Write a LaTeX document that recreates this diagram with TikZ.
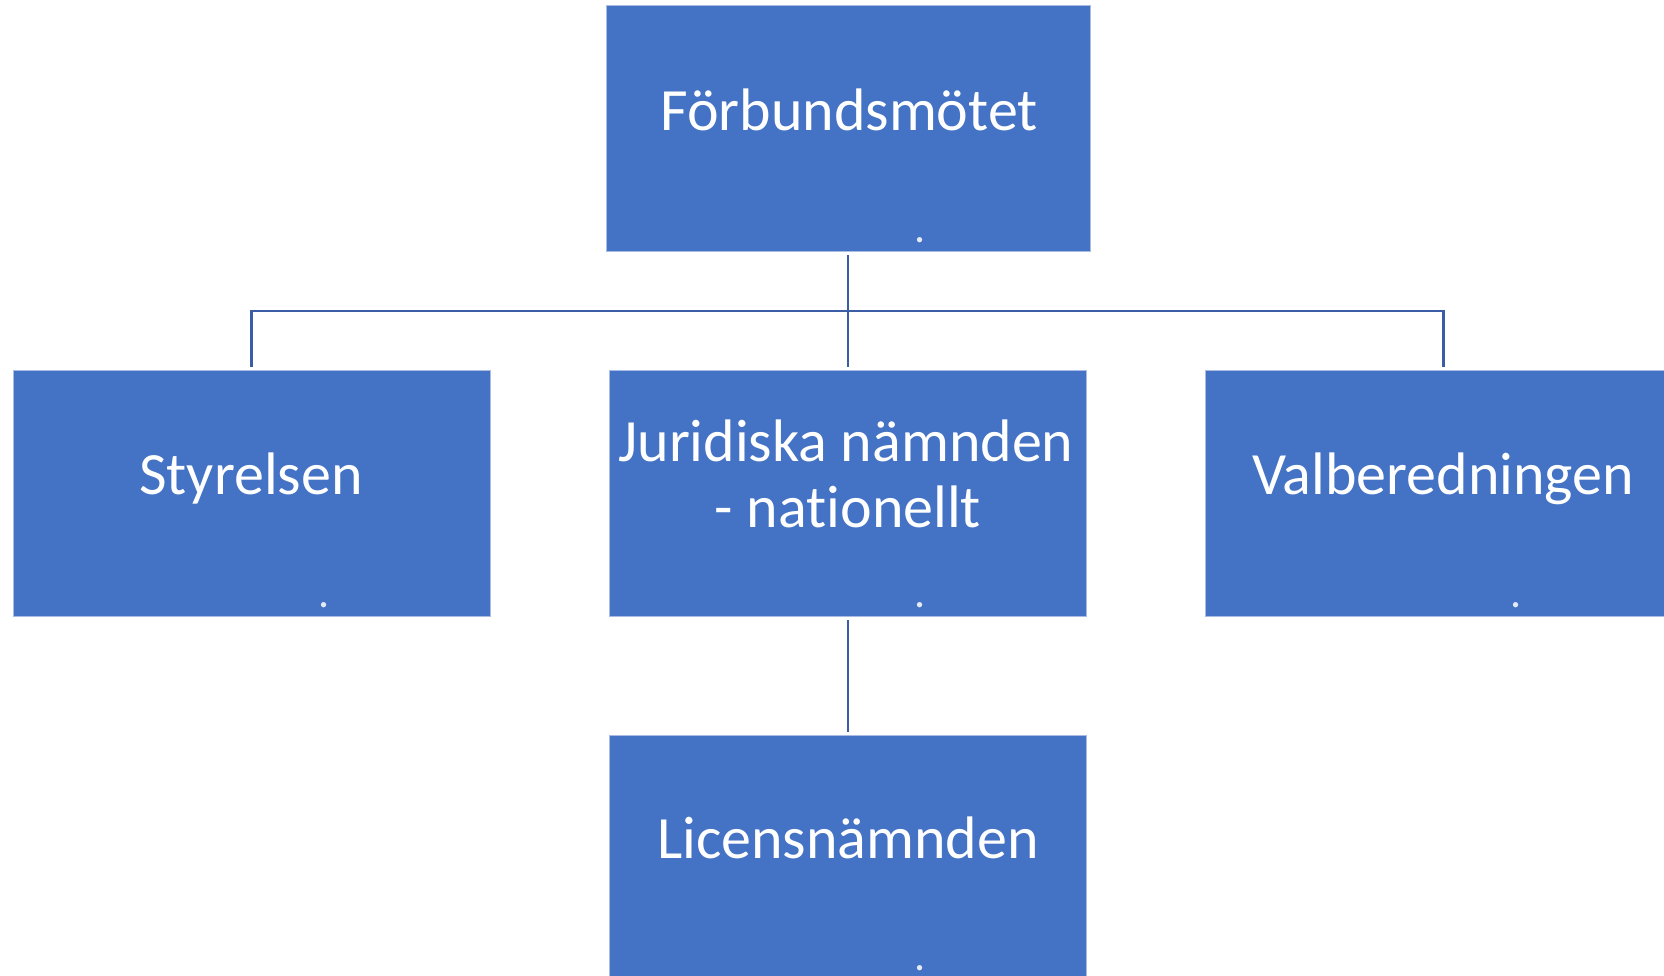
\documentclass[tikz,border=0pt]{standalone}
\usepackage{fontspec}
\setmainfont{Carlito}[Ligatures=NoCommon]
\definecolor{boxblue}{HTML}{4472C4}
\definecolor{linkblue}{HTML}{3A5DA6}
\definecolor{edgeblue}{HTML}{A9BCE3}
\definecolor{dotwhite}{HTML}{E4EAF6}
\begin{document}
\begin{tikzpicture}[x=1pt,y=-1pt,
  orgbox/.style={rectangle, fill=boxblue, draw=edgeblue, line width=0.8pt, minimum width=477pt, minimum height=246pt, inner sep=0pt},
  lbl/.style={text=white, inner sep=0pt, anchor=base, font=\fontsize{60}{66}\selectfont},
  dotlbl/.style={text=dotwhite, inner sep=0pt, anchor=base, font=\fontsize{44}{44}\selectfont},
  conn/.style={draw=linkblue, line width=2.2pt}]
\useasboundingbox (0,0) rectangle (1664,975);
\clip (0,0) rectangle (1664,975);
\node[orgbox, minimum width=484pt] (top) at (848,128) {};
\node[orgbox] (sty) at (251.5,493) {};
\node[orgbox] (jur) at (848,493) {};
\node[orgbox] (val) at (1443.5,493) {};
\node[orgbox] (lic) at (848,858) {};
\node[lbl] (ttop) at (849,130) {Förbundsmötet};
\node[lbl] (tsty) at (251,494) {Styrelsen};
\node[lbl] (tjura) at (846,461) {Juridiska nämnden};
\node[lbl] (tjurb) at (848,527) {- nationellt};
\node[lbl] (tval) at (1443,494) {Valberedningen};
\node[lbl] (tlic) at (848,858) {Licensnämnden};
\node[dotlbl] (dtop) at (920,242) {.};
\node[dotlbl] (dsty) at (324,607) {.};
\node[dotlbl] (djur) at (920,607) {.};
\node[dotlbl] (dval) at (1516,607) {.};
\node[dotlbl] (dlic) at (920,970) {.};
\coordinate (bus) at (848,311);
\draw[conn, shorten <=4pt, shorten >=3pt] (top.south) -- (jur.north);
\draw[conn, shorten <=3pt, shorten >=3pt] (sty.north) -- (sty.north |- bus) -- (val.north |- bus) -- (val.north);
\draw[conn, shorten <=4pt, shorten >=3pt] (jur.south) -- (lic.north);
\end{tikzpicture}
\end{document}
